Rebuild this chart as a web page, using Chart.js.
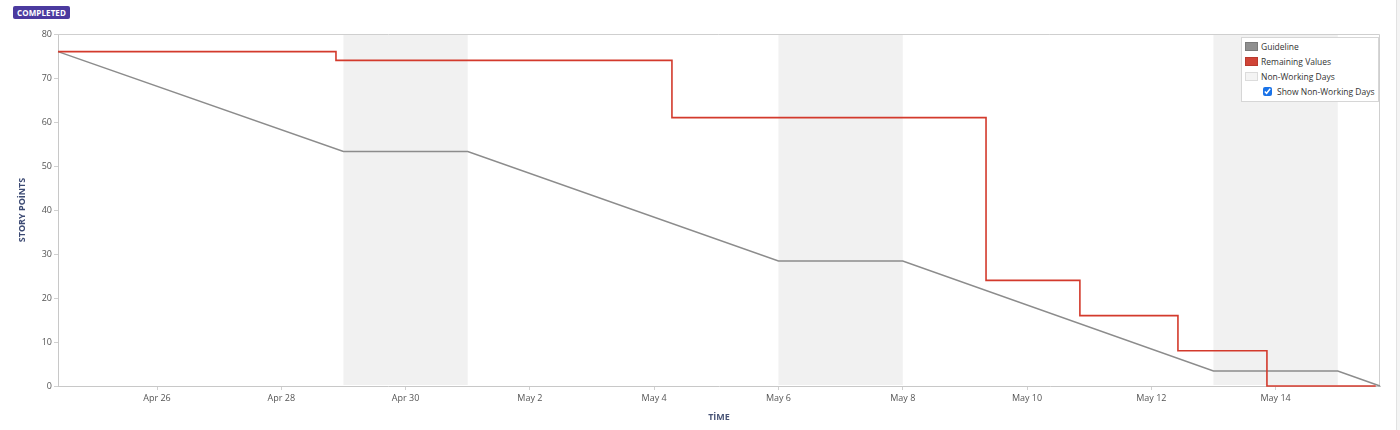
<!DOCTYPE html>
<html>
<head>
<meta charset="utf-8">
<script src="https://cdn.jsdelivr.net/npm/chart.js@4.4.0/dist/chart.umd.min.js"></script>
<style>
  body { margin: 0; background: #fff; font-family: "Open Sans", sans-serif; }
  #wrap { position: relative; width: 1400px; height: 430px; overflow: hidden; }
  #wrap canvas { position: absolute; left: 0; top: 0; }
  .badge { position: absolute; left: 13px; top: 6px; height: 13px; line-height: 13px; padding: 0 4px;
           background: #4b3a9f; color: #fff; font-weight: bold; font-size: 8px; border-radius: 2px; letter-spacing: 0.1px; }
  .legend { position: absolute; left: 1241px; top: 37px; width: 136px; height: 63px; border: 1px solid #d6d6d6;
            background: #fff; font-size: 8.5px; color: #333; }
  .legend .row { position: absolute; left: 3px; height: 12px; line-height: 12px; white-space: nowrap; }
  .legend .sw { display: inline-block; width: 13px; height: 9px; vertical-align: -1px; margin-right: 3px; box-sizing: border-box; }
  .legend input { width: 9px; height: 9px; margin: 0 5px 0 18px; vertical-align: -1px; accent-color: #1a73e8; }
  .gutter { position: absolute; left: 1396px; top: 0; width: 4px; height: 430px; background: #f4f4f4; border-left: 1px solid #e2e2e2; }
</style>
</head>
<body>
<div id="wrap">
  <canvas id="burndown" width="1400" height="430"></canvas>
  <div class="badge">COMPLETED</div>
  <div class="legend">
    <div class="row" style="top:3px"><span class="sw" style="background:#8f8f8f;border:1px solid #7a7a7a"></span>Guideline</div>
    <div class="row" style="top:18px"><span class="sw" style="background:#d04437;border:1px solid #b93a2e"></span>Remaining Values</div>
    <div class="row" style="top:33px"><span class="sw" style="background:#f4f4f4;border:1px solid #dcdcdc"></span>Non-Working Days</div>
    <label class="row" style="top:48px"><input type="checkbox" id="showNwd" checked>Show Non-Working Days</label>
  </div>
  <div class="gutter"></div>
</div>
<script>
// datas do sprint
const rangeStart = '2023-04-24T09:46';
const rangeEnd = '2023-05-15T16:19';

const tickDates = ['2023-04-26T00:00', '2023-04-28T00:00', '2023-04-30T00:00', '2023-05-02T00:00', '2023-05-04T00:00',
                   '2023-05-06T00:00', '2023-05-08T00:00', '2023-05-10T00:00', '2023-05-12T00:00', '2023-05-14T00:00'];
const tickLabels = ['Apr 26', 'Apr 28', 'Apr 30', 'May 2', 'May 4', 'May 6', 'May 8', 'May 10', 'May 12', 'May 14'];

const guideTimes = ['2023-04-24T09:46', '2023-04-29T00:00', '2023-05-01T00:00', '2023-05-06T00:00',
                    '2023-05-08T00:00', '2023-05-13T00:00', '2023-05-15T00:00', '2023-05-15T16:19'];
const guideValues = [76, 53.3, 53.3, 28.4, 28.4, 3.4, 3.4, 0];

const remainingTimes = ['2023-04-24T09:46', '2023-04-28T21:07', '2023-05-04T06:52', '2023-05-09T08:10',
                        '2023-05-10T20:25', '2023-05-12T10:17', '2023-05-13T20:39', '2023-05-15T14:40'];
const remainingValues = [76, 74, 61, 24, 16, 8, 0, 0];

const nonWorkStart = ['2023-04-29T00:00', '2023-05-06T00:00', '2023-05-13T00:00'];
const nonWorkEnd = ['2023-05-01T00:00', '2023-05-08T00:00', '2023-05-15T00:00'];

const base = Date.parse('2023-04-24T00:00Z');
const toDay = s => (Date.parse(s + 'Z') - base) / 864e5;
const pts = (ts, vs) => ts.map((t, i) => ({ x: toDay(t), y: vs[i] }));

const fontTick = { family: '"Open Sans", sans-serif', size: 9 };
const fontTitle = { family: '"Open Sans", sans-serif', size: 9, weight: 'bold' };

const nonWorkingPlugin = {
  id: 'nonWorking',
  beforeDatasetsDraw(chart) {
    const { ctx, chartArea: a, scales: { x } } = chart;
    ctx.save();
    if (document.getElementById('showNwd').checked) {
      ctx.fillStyle = '#f1f1f1';
      nonWorkStart.forEach((s, i) => {
        const x1 = x.getPixelForValue(toDay(s));
        const x2 = x.getPixelForValue(toDay(nonWorkEnd[i]));
        ctx.fillRect(x1, a.top + 1, x2 - x1, a.bottom - a.top - 2);
      });
    }
    // moldura de cima e da direita
    ctx.strokeStyle = '#cfcfcf';
    ctx.lineWidth = 1;
    ctx.beginPath();
    ctx.moveTo(a.left, a.top + 0.5);
    ctx.lineTo(a.right - 0.5, a.top + 0.5);
    ctx.lineTo(a.right - 0.5, a.bottom);
    ctx.stroke();
    ctx.restore();
  }
};

const grafico = new Chart(document.getElementById('burndown'), {
  type: 'line',
  data: {
    datasets: [
      {
        label: 'Remaining Values',
        data: pts(remainingTimes, remainingValues),
        borderColor: '#d33a2c',
        borderWidth: 1.6,
        stepped: true,
        pointRadius: 0,
        clip: false,
        fill: false
      },
      {
        label: 'Guideline',
        data: pts(guideTimes, guideValues),
        borderColor: '#8c8c8c',
        borderWidth: 1.5,
        tension: 0,
        pointRadius: 0,
        clip: false,
        fill: false
      }
    ]
  },
  options: {
    responsive: false,
    animation: false,
    layout: { padding: { left: 0, top: 34, right: 20, bottom: 0 } },
    plugins: {
      legend: { display: false },
      tooltip: { enabled: false }
    },
    scales: {
      x: {
        type: 'linear',
        min: toDay(rangeStart),
        max: toDay(rangeEnd),
        afterBuildTicks: scale => { scale.ticks = tickDates.map(d => ({ value: toDay(d) })); },
        afterFit: scale => { scale.height = 44; },
        ticks: {
          autoSkip: false,
          maxRotation: 0,
          padding: 3,
          color: '#555',
          font: fontTick,
          callback: (v, i) => tickLabels[i]
        },
        grid: { drawOnChartArea: false, tickLength: 4, color: '#d0d0d0' },
        border: { color: '#c8c8c8' },
        title: { display: true, text: 'TİME', color: '#4a5577', font: fontTitle, padding: { top: 0, bottom: 7 } }
      },
      y: {
        min: 0,
        max: 80,
        afterFit: scale => { scale.width = 58; },
        ticks: { stepSize: 10, padding: 2, color: '#555', font: fontTick },
        grid: { drawOnChartArea: false, tickLength: 4, color: '#d0d0d0' },
        border: { color: '#c8c8c8' },
        title: { display: true, text: 'STORY POİNTS', color: '#3c4a73', font: fontTitle, padding: { top: 17, bottom: 0 } }
      }
    }
  },
  plugins: [nonWorkingPlugin]
});

document.getElementById('showNwd').addEventListener('change', () => grafico.update());
</script>
</body>
</html>
